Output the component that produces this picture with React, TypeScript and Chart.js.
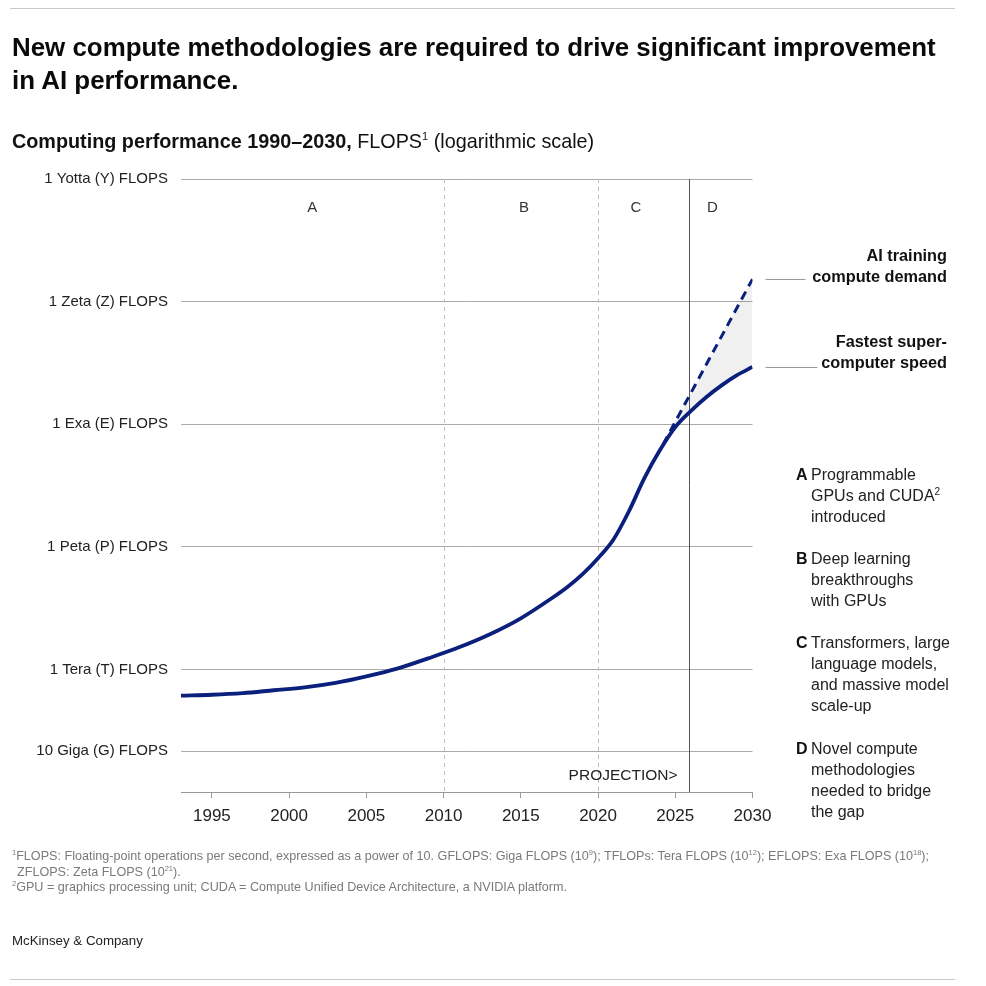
import React, { useEffect, useRef } from "react";
import { Chart, registerables } from "chart.js";

Chart.register(...registerables);

const FONT = "'Liberation Sans', Arial, sans-serif";

// Fastest supercomputer speed (log10 FLOPS) by year
const years = [1993, 1995, 1997, 1999, 2001, 2003, 2005, 2007, 2009, 2011, 2013, 2015, 2017, 2018, 2019, 2020, 2021, 2022, 2023, 2024, 2025, 2026, 2027, 2028, 2029, 2030];
const supercomputerExp = [11.36, 11.38, 11.42, 11.49, 11.56, 11.67, 11.83, 12.02, 12.27, 12.54, 12.86, 13.25, 13.74, 14.01, 14.33, 14.72, 15.18, 15.87, 16.68, 17.36, 17.93, 18.32, 18.66, 18.95, 19.2, 19.4];

// AI training compute demand (log10 FLOPS)
const demandYears = [2024.2, 2030];
const demandExp = [17.5, 21.55];

// Axes
const xTickYears = [1995, 2000, 2005, 2010, 2015, 2020, 2025, 2030];
const yTickValues = [1e10, 1e12, 1e15, 1e18, 1e21, 1e24];
const yTickLabels = ["10 Giga (G) FLOPS", "1 Tera (T) FLOPS", "1 Peta (P) FLOPS", "1 Exa (E) FLOPS", "1 Zeta (Z) FLOPS", "1 Yotta (Y) FLOPS"];

// Eras
const dividerYears = [2010, 2020];
const projectionYear = 2025.86;
const eraLetters = ["A", "B", "C", "D"];
const eraLabelYears = [2001.5, 2015.2, 2022.45, 2027.4];

const eraNotes: string[][] = [
  ["Programmable", "GPUs and CUDA²", "introduced"],
  ["Deep learning", "breakthroughs", "with GPUs"],
  ["Transformers, large", "language models,", "and massive model", "scale-up"],
  ["Novel compute", "methodologies", "needed to bridge", "the gap"],
];

const NAVY = "#0b1f7c";

const overlayPlugin = {
  id: "overlay",
  beforeDatasetsDraw(chart: any) {
    const { ctx, chartArea, scales } = chart;
    const x = scales.x;
    ctx.save();
    ctx.strokeStyle = "#bdbdbd";
    ctx.lineWidth = 1;
    ctx.setLineDash([4, 4]);
    dividerYears.forEach((yr) => {
      const px = Math.round(x.getPixelForValue(yr)) + 0.5;
      ctx.beginPath();
      ctx.moveTo(px, chartArea.top);
      ctx.lineTo(px, chartArea.bottom);
      ctx.stroke();
    });
    ctx.setLineDash([]);
    ctx.strokeStyle = "#555";
    const pp = Math.round(x.getPixelForValue(projectionYear)) + 0.5;
    ctx.beginPath();
    ctx.moveTo(pp, chartArea.top);
    ctx.lineTo(pp, chartArea.bottom);
    ctx.stroke();
    ctx.restore();
  },
  afterDatasetsDraw(chart: any) {
    const { ctx, chartArea, scales } = chart;
    const x = scales.x;
    const y = scales.y;
    ctx.save();
    ctx.fillStyle = "#333";
    ctx.font = `15px ${FONT}`;
    ctx.textAlign = "center";
    ctx.textBaseline = "middle";
    eraLetters.forEach((l, i) => {
      ctx.fillText(l, x.getPixelForValue(eraLabelYears[i]), chartArea.top + 29);
    });
    ctx.fillStyle = "#222";
    ctx.font = `15.5px ${FONT}`;
    ctx.textAlign = "right";
    ctx.fillText("PROJECTION>", x.getPixelForValue(projectionYear) - 11, chartArea.bottom - 16);

    // connector lines
    ctx.strokeStyle = "#999";
    ctx.lineWidth = 1;
    const yd = Math.round(y.getPixelForValue(Math.pow(10, demandExp[demandExp.length - 1]))) + 0.5;
    const ys = Math.round(y.getPixelForValue(Math.pow(10, supercomputerExp[supercomputerExp.length - 1]))) + 0.5;
    ctx.beginPath();
    ctx.moveTo(chartArea.right + 13, yd);
    ctx.lineTo(chartArea.right + 53, yd);
    ctx.moveTo(chartArea.right + 13, ys);
    ctx.lineTo(chartArea.right + 65, ys);
    ctx.stroke();
    ctx.restore();
  },
};

function ChartCanvas() {
  const ref = useRef<HTMLCanvasElement | null>(null);
  useEffect(() => {
    if (!ref.current) return;
    const chart = new Chart(ref.current, {
      type: "line",
      data: {
        datasets: [
          {
            label: "Fastest supercomputer speed",
            data: years.map((yr, i) => ({ x: yr, y: Math.pow(10, supercomputerExp[i]) })),
            borderColor: NAVY,
            borderWidth: 3.8,
            pointRadius: 0,
            cubicInterpolationMode: "monotone",
            fill: false,
          },
          {
            label: "AI training compute demand",
            data: demandYears.map((yr, i) => ({ x: yr, y: Math.pow(10, demandExp[i]) })),
            borderColor: NAVY,
            borderWidth: 3,
            borderDash: [9, 6],
            pointRadius: 0,
            fill: { target: 0, above: "rgba(0,0,0,0.06)", below: "rgba(0,0,0,0.06)" },
          },
        ],
      },
      options: {
        animation: false,
        responsive: false,
        maintainAspectRatio: false,
        layout: { padding: { left: 0, right: 233.5, top: 179, bottom: 986 - 792 - 40 } },
        plugins: {
          legend: { display: false },
          tooltip: { enabled: false },
          filler: { drawTime: "beforeDatasetsDraw" },
        },
        scales: {
          x: {
            type: "linear",
            min: 1993,
            max: 2030,
            afterBuildTicks: (s: any) => {
              s.ticks = xTickYears.map((v) => ({ value: v }));
            },
            afterFit: (s: any) => {
              s.height = 40;
            },
            grid: { display: true, drawOnChartArea: false, drawTicks: true, tickLength: 6, color: "#999" },
            border: { display: true, color: "#999" },
            ticks: {
              font: { family: FONT, size: 17 },
              color: "#222",
              padding: 8,
              maxRotation: 0,
              autoSkip: false,
              callback: (v: any) => String(v),
            },
          },
          y: {
            type: "logarithmic",
            min: 1e9,
            max: 1e24,
            afterBuildTicks: (s: any) => {
              s.ticks = yTickValues.map((v) => ({ value: v }));
            },
            afterFit: (s: any) => {
              s.width = 181;
            },
            grid: { color: "#aaa", drawTicks: false },
            border: { display: false },
            ticks: {
              font: { family: FONT, size: 15 },
              color: "#222",
              padding: 13,
              autoSkip: false,
              callback: (v: any) => {
                const i = yTickValues.findIndex((t) => Math.abs(Math.log10(t) - Math.log10(v)) < 1e-6);
                return i >= 0 ? yTickLabels[i] : "";
              },
            },
          },
        },
      },
      plugins: [overlayPlugin],
    } as any);
    return () => chart.destroy();
  }, []);
  return <canvas ref={ref} width={986} height={986} style={{ position: "absolute", left: 0, top: 0, width: 986, height: 986 }} />;
}

const abs = (left: number, top: number, extra: React.CSSProperties = {}): React.CSSProperties => ({
  position: "absolute",
  left,
  top,
  whiteSpace: "nowrap",
  ...extra,
});

const fsup: React.CSSProperties = { fontSize: 7.5, verticalAlign: "5px", lineHeight: 0 };

export default function App() {
  const noteTops = [463.5, 547.5, 631.5, 737.5];
  return (
    <div style={{ position: "absolute", left: 0, top: 0, width: 986, height: 986, background: "#fff", fontFamily: FONT, color: "#111", overflow: "hidden" }}>
      <ChartCanvas />
      <div style={{ position: "absolute", left: 10, top: 8, width: 945, height: 1, background: "#c8c8c8" }} />
      <div style={{ position: "absolute", left: 10, top: 979, width: 945, height: 1, background: "#c8c8c8" }} />
      <div style={abs(12, 31, { fontSize: 25.9, fontWeight: 700, lineHeight: "33px", color: "#0a0a0a" })}>
        New compute methodologies are required to drive significant improvement
        <br />
        in AI performance.
      </div>
      <div style={abs(12, 129, { fontSize: 19.8, lineHeight: "24px", color: "#111" })}>
        <span style={{ fontWeight: 700 }}>Computing performance 1990–2030,</span> FLOPS
        <sup style={{ fontSize: 11, verticalAlign: "8px", lineHeight: 0 }}>1</sup> (logarithmic scale)
      </div>
      <div style={abs(0, 244.5, { width: 947, textAlign: "right", fontSize: 16.3, fontWeight: 700, lineHeight: "21px", color: "#111" })}>
        AI training
        <br />
        compute demand
      </div>
      <div style={abs(0, 330.5, { width: 947, textAlign: "right", fontSize: 16.3, fontWeight: 700, lineHeight: "21px", color: "#111" })}>
        Fastest super-
        <br />
        computer speed
      </div>
      {eraLetters.map((l, i) => (
        <div key={l} style={abs(796, noteTops[i], { fontSize: 16, lineHeight: "21px", color: "#222" })}>
          <span style={{ position: "absolute", left: 0, top: 0, fontWeight: 700, color: "#111" }}>{l}</span>
          <div style={{ position: "absolute", left: 15, top: 0 }}>
            {eraNotes[i].map((line, j) => (
              <div key={j}>
                {line.endsWith("²") ? (
                  <>
                    {line.slice(0, -1)}
                    <sup style={{ fontSize: 10, verticalAlign: "6px", lineHeight: 0 }}>2</sup>
                  </>
                ) : (
                  line
                )}
              </div>
            ))}
          </div>
        </div>
      ))}
      <div style={abs(12, 849, { fontSize: 12.6, lineHeight: "15.5px", color: "#7a7a7a" })}>
        <div>
          <sup style={fsup}>1</sup>FLOPS: Floating-point operations per second, expressed as a power of 10. GFLOPS: Giga FLOPS (10
          <sup style={fsup}>9</sup>); TFLOPs: Tera FLOPS (10
          <sup style={fsup}>12</sup>); EFLOPS: Exa FLOPS (10
          <sup style={fsup}>18</sup>);
        </div>
        <div style={{ paddingLeft: 5 }}>
          ZFLOPS: Zeta FLOPS (10<sup style={fsup}>21</sup>).
        </div>
        <div>
          <sup style={fsup}>2</sup>GPU = graphics processing unit; CUDA = Compute Unified Device Architecture, a NVIDIA platform.
        </div>
      </div>
      <div style={abs(12, 933, { fontSize: 13.3, lineHeight: "16px", color: "#222" })}>McKinsey &amp; Company</div>
    </div>
  );
}
